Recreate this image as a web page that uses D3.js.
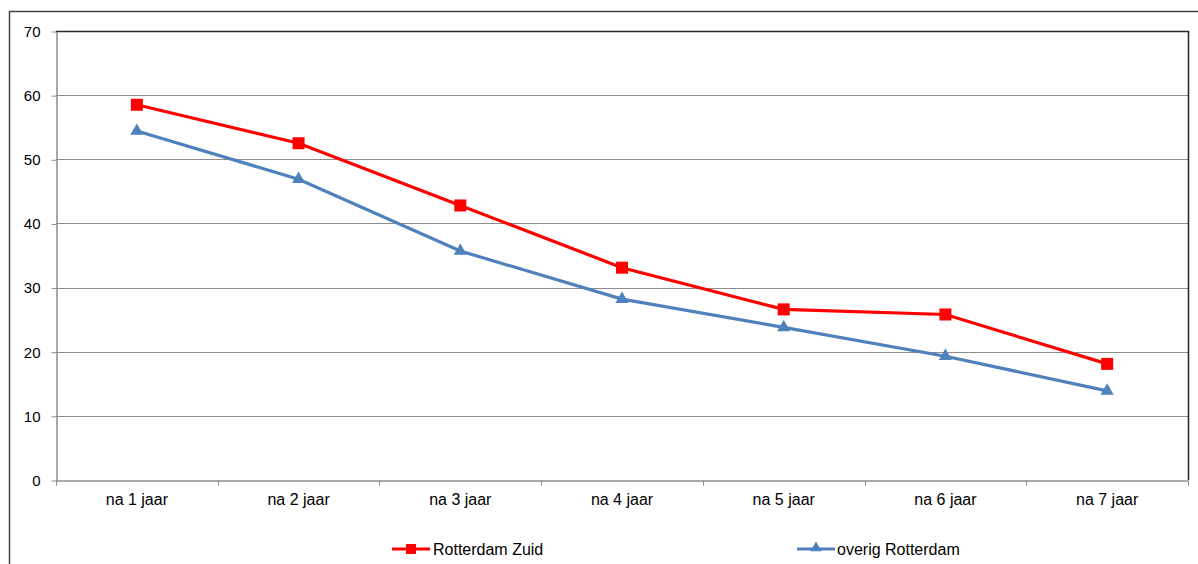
<!DOCTYPE html>
<html>
<head>
<meta charset="utf-8">
<script src="https://cdn.jsdelivr.net/npm/d3@7/dist/d3.min.js"></script>
<style>
  body { margin: 0; background: #fff; }
  svg text { font-family: "Liberation Sans", Arial, sans-serif; font-size: 16px; fill: #000; }
</style>
</head>
<body>
<svg id="chart" width="1198" height="564"></svg>
<script>
var categories = ["na 1 jaar", "na 2 jaar", "na 3 jaar", "na 4 jaar", "na 5 jaar", "na 6 jaar", "na 7 jaar"];
var zuid = [58.5, 52.5, 42.8, 33.1, 26.6, 25.8, 18.1];
var overig = [54.4, 46.9, 35.7, 28.2, 23.8, 19.3, 13.9];
var yTicks = [0, 10, 20, 30, 40, 50, 60, 70];
var seriesNames = ["Rotterdam Zuid", "overig Rotterdam"];

var svg = d3.select("#chart");
var plotLeft = 56, plotTop = 31, plotRight = 1188, plotBottom = 480;

// outer frame
svg.append("rect")
  .attr("x", 9.5).attr("y", 11.5)
  .attr("width", 1200).attr("height", 600)
  .attr("fill", "none").attr("stroke", "#404040").attr("stroke-width", 1.5);

var x = d3.scaleBand().domain(categories).range([plotLeft, plotRight]);
var y = d3.scaleLinear().domain([0, 70]).range([plotBottom, plotTop]);

// gridlines
svg.append("g").selectAll("line")
  .data(yTicks.slice(1, -1))
  .enter().append("line")
    .attr("x1", plotLeft).attr("x2", plotRight)
    .attr("y1", function(d) { return Math.round(y(d)) + 0.5; })
    .attr("y2", function(d) { return Math.round(y(d)) + 0.5; })
    .attr("stroke", "#8c8c8c").attr("stroke-width", 1);

// plot border top/right
svg.append("path")
  .attr("d", "M" + plotLeft + "," + (plotTop + 0.5) + "H" + (plotRight + 0.5) + "V" + plotBottom)
  .attr("fill", "none").attr("stroke", "#262626").attr("stroke-width", 1.5);

// y axis
var yAxis = svg.append("g")
  .attr("transform", "translate(" + (plotLeft + 0.5) + ",0.5)")
  .call(d3.axisLeft(y).tickValues(yTicks).tickSize(5).tickPadding(11).tickSizeOuter(0));
yAxis.select(".domain").attr("stroke", "#8c8c8c").attr("stroke-width", 1.5);
yAxis.selectAll(".tick line").attr("stroke", "#8c8c8c");
yAxis.selectAll("text").style("font-size", "15px").style("font-family", "Liberation Sans, Arial, sans-serif");

// x axis
var xAxis = svg.append("g")
  .attr("transform", "translate(0," + (plotBottom + 0.5) + ")")
  .call(d3.axisBottom(x).tickSize(0).tickPadding(13).tickSizeOuter(0));
xAxis.select(".domain").attr("stroke", "#8c8c8c").attr("stroke-width", 1.5);
xAxis.selectAll("text").style("font-size", "16px").style("font-family", "Liberation Sans, Arial, sans-serif");
xAxis.append("g").selectAll("line")
  .data(categories.concat([null]))
  .enter().append("line")
    .attr("x1", function(d, i) { return Math.round(plotLeft + i * x.step()) + 0.5; })
    .attr("x2", function(d, i) { return Math.round(plotLeft + i * x.step()) + 0.5; })
    .attr("y1", 0).attr("y2", 5)
    .attr("stroke", "#8c8c8c");

var cx = function(d, i) { return x(categories[i]) + x.bandwidth() / 2; };
var line = d3.line().x(cx).y(function(d) { return y(d); });

var blue = "#4f81bd", red = "#ff0000";

svg.append("path").datum(overig)
  .attr("d", line).attr("fill", "none").attr("stroke", blue).attr("stroke-width", 3.2);
svg.append("path").datum(zuid)
  .attr("d", line).attr("fill", "none").attr("stroke", red).attr("stroke-width", 3.2);

var tri = d3.symbol().type(d3.symbolTriangle).size(75);
svg.append("g").selectAll("path")
  .data(overig).enter().append("path")
    .attr("d", tri)
    .attr("transform", function(d, i) { return "translate(" + cx(d, i) + "," + y(d) + ")"; })
    .attr("fill", blue);

svg.append("g").selectAll("rect")
  .data(zuid).enter().append("rect")
    .attr("x", function(d, i) { return cx(d, i) - 6; })
    .attr("y", function(d) { return y(d) - 6; })
    .attr("width", 12).attr("height", 12)
    .attr("fill", red);

// legend
var legendY = 549;
var lg1 = svg.append("g");
lg1.append("line").attr("x1", 392).attr("x2", 430).attr("y1", legendY).attr("y2", legendY)
  .attr("stroke", red).attr("stroke-width", 3);
lg1.append("rect").attr("x", 406).attr("y", legendY - 5).attr("width", 10).attr("height", 10).attr("fill", red);
lg1.append("text").attr("x", 433).attr("y", legendY + 6).text(seriesNames[0]);

var lg2 = svg.append("g");
lg2.append("line").attr("x1", 797).attr("x2", 835).attr("y1", legendY).attr("y2", legendY)
  .attr("stroke", blue).attr("stroke-width", 3);
lg2.append("path").attr("d", d3.symbol().type(d3.symbolTriangle).size(55))
  .attr("transform", "translate(816," + (legendY - 1) + ")").attr("fill", blue);
lg2.append("text").attr("x", 837).attr("y", legendY + 6).text(seriesNames[1]);
</script>
</body>
</html>
